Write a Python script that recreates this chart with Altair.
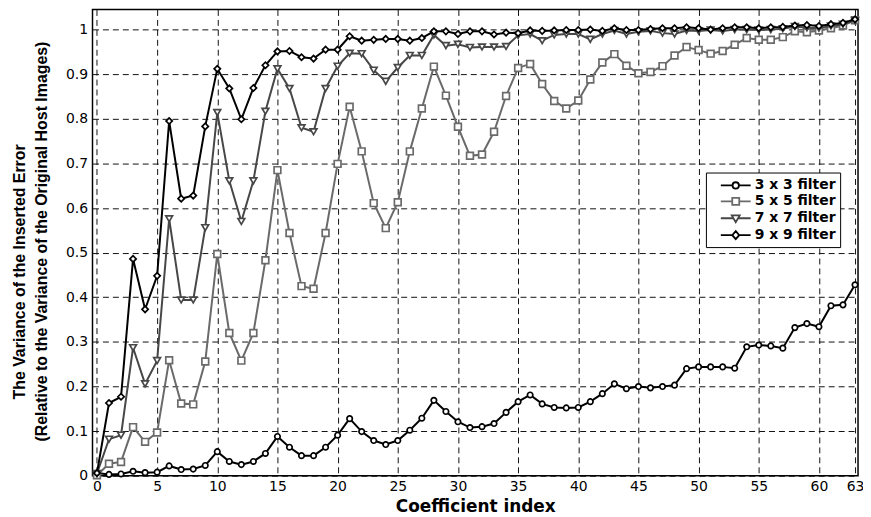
import altair as alt
import pandas as pd

# ---------------- data ----------------
coef_index = list(range(64))

names = ["3 x 3 filter", "5 x 5 filter", "7 x 7 filter", "9 x 9 filter"]

f3 = [0.006, 0.003, 0.004, 0.010, 0.007, 0.008, 0.022, 0.014, 0.015, 0.023,
      0.054, 0.032, 0.025, 0.032, 0.050, 0.088, 0.064, 0.045, 0.045, 0.064,
      0.091, 0.128, 0.099, 0.079, 0.070, 0.079, 0.102, 0.129, 0.169, 0.144,
      0.121, 0.108, 0.110, 0.117, 0.142, 0.166, 0.181, 0.161, 0.153, 0.152,
      0.153, 0.166, 0.184, 0.206, 0.195, 0.200, 0.197, 0.200, 0.203, 0.240,
      0.244, 0.244, 0.244, 0.241, 0.289, 0.293, 0.291, 0.286, 0.332, 0.341,
      0.334, 0.381, 0.383, 0.428]

f5 = [0.001, 0.027, 0.031, 0.109, 0.076, 0.097, 0.259, 0.162, 0.160, 0.256,
      0.497, 0.320, 0.258, 0.320, 0.483, 0.685, 0.544, 0.425, 0.419, 0.544,
      0.699, 0.827, 0.727, 0.611, 0.555, 0.613, 0.727, 0.823, 0.917, 0.852,
      0.782, 0.717, 0.720, 0.771, 0.851, 0.914, 0.923, 0.878, 0.840, 0.823,
      0.841, 0.888, 0.926, 0.945, 0.919, 0.902, 0.905, 0.918, 0.942, 0.961,
      0.954, 0.946, 0.952, 0.966, 0.981, 0.977, 0.977, 0.983, 0.996, 0.994,
      0.998, 1.003, 1.009, 1.021]

f7 = [0.005, 0.082, 0.091, 0.287, 0.206, 0.258, 0.576, 0.394, 0.394, 0.556,
      0.814, 0.661, 0.570, 0.661, 0.817, 0.912, 0.868, 0.780, 0.771, 0.868,
      0.918, 0.947, 0.946, 0.909, 0.884, 0.915, 0.942, 0.942, 0.988, 0.964,
      0.967, 0.960, 0.961, 0.961, 0.962, 0.987, 0.990, 0.975, 0.988, 0.990,
      0.990, 0.978, 0.990, 0.998, 0.990, 0.995, 0.997, 0.992, 0.990, 0.998,
      0.997, 0.999, 0.997, 1.000, 1.000, 0.999, 1.000, 1.002, 1.007, 1.004,
      1.003, 1.008, 1.012, 1.020]

f9 = [0.006, 0.163, 0.177, 0.486, 0.373, 0.448, 0.795, 0.621, 0.628, 0.783,
      0.912, 0.868, 0.799, 0.869, 0.920, 0.951, 0.952, 0.938, 0.935, 0.955,
      0.955, 0.985, 0.975, 0.977, 0.979, 0.979, 0.975, 0.981, 0.996, 0.996,
      0.990, 0.996, 0.996, 0.989, 0.993, 0.992, 0.998, 0.997, 0.998, 0.999,
      0.999, 1.000, 0.997, 1.003, 0.999, 0.999, 1.001, 1.003, 1.003, 1.005,
      1.003, 1.000, 1.003, 1.005, 1.005, 1.003, 1.005, 1.006, 1.009, 1.010,
      1.008, 1.012, 1.015, 1.023]

x_ticks = [0, 5, 10, 15, 20, 25, 30, 35, 40, 45, 50, 55, 60, 63]
y_ticks = [0, 0.1, 0.2, 0.3, 0.4, 0.5, 0.6, 0.7, 0.8, 0.9, 1.0]

y_title_1 = "The Variance of the Inserted Error"
y_title_2 = "(Relative to the Variance of the Original Host Images)"
x_title = "Coefficient index"

# ---------------- styling ----------------
colors = ["#000000", "#6a6a6a", "#474747", "#000000"]
shapes = ["circle", "square", "triangle-down", "diamond"]
marker_sizes = [30, 46, 46, 40]

# legend symbols: a line with the marker in the middle (unit = 8 px)
legend_paths = [
    "M-1.875,0H-0.4M0.4,0H1.875M0.4,0A0.4,0.4 0 1,1 -0.4,0A0.4,0.4 0 1,1 0.4,0Z",
    "M-1.875,0H-0.44M0.44,0H1.875M-0.44,-0.44H0.44V0.44H-0.44Z",
    "M-1.875,0H-0.29M0.29,0H1.875M-0.5,-0.35H0.5L0,0.5Z",
    "M-1.875,0H-0.44M0.44,0H1.875M0,-0.5L0.44,0L0,0.5L-0.44,0Z",
]

rows = []
for n, vals in zip(names, [f3, f5, f7, f9]):
    for k, v in zip(coef_index, vals):
        rows.append({"series": n, "k": k, "v": v})
df = pd.DataFrame(rows)

tick_font = "DejaVu Sans"
pad_chars = "\u00a0" * 11 + "\u2800"   # keeps the first title line off-centre like the original

x_enc = alt.X(
    "k:Q",
    scale=alt.Scale(domain=[-0.37, 63.25], nice=False, zero=False),
    axis=alt.Axis(
        values=x_ticks, format="d", grid=True, gridDash=[6, 4], gridColor="#111111",
        gridWidth=1, ticks=False, domain=False, labelFlush=False, labelOverlap=False,
        labelFont=tick_font, labelFontSize=14, labelColor="black", labelPadding=4,
        title=x_title, titleFont=tick_font, titleFontSize=17,
        titleFontWeight="bold", titleColor="black", titlePadding=5,
    ),
)
y_enc = alt.Y(
    "v:Q",
    scale=alt.Scale(domain=[0, 1.045], nice=False),
    axis=alt.Axis(
        values=y_ticks, format="~g", grid=True, gridDash=[6, 4], gridColor="#111111",
        gridWidth=1, ticks=False, domain=False, labelFlush=False, labelOverlap=False,
        labelFont=tick_font, labelFontSize=14, labelColor="black", labelPadding=5,
        title=[y_title_1 + pad_chars, y_title_2],
        titleFont="Liberation Sans", titleFontSize=16, titleFontWeight="bold",
        titleColor="black", titleLineHeight=22, titleBaseline="top",
        titleAngle=270, titleX=-81, titleY=233,
    ),
)

color_scale = alt.Scale(domain=names, range=colors)

base = alt.Chart(df)
layers = []
for n, shp, sz in zip(names, shapes, marker_sizes):
    sub = base.transform_filter(alt.datum.series == n)
    layers.append(
        sub.mark_line(strokeWidth=2).encode(
            x=x_enc, y=y_enc,
            color=alt.Color("series:N", scale=color_scale, legend=None),
        )
    )
    layers.append(
        sub.mark_point(shape=shp, filled=False, fill="white", fillOpacity=1,
                       strokeWidth=1.7, size=sz, opacity=1).encode(
            x=x_enc, y=y_enc,
            color=alt.Color("series:N", scale=color_scale, legend=None),
        )
    )

# per-entry legend colour, looked up from the same names / colours lists
names_js = "[" + ",".join(f"'{n}'" for n in names) + "]"
colors_js = "[" + ",".join(f"'{c}'" for c in colors) + "]"
legend_color_expr = f"{colors_js}[indexof({names_js}, datum.value)]"

# invisible layer that only carries the legend (line + marker symbols)
legend_layer = base.mark_point(filled=False, opacity=0, size=1).encode(
    x=x_enc, y=y_enc,
    shape=alt.Shape(
        "series:N", scale=alt.Scale(domain=names, range=legend_paths),
        legend=alt.Legend(
            title=None,
            labelLimit=0,
            symbolStrokeColor={"expr": legend_color_expr},
            symbolFillColor="white",
            symbolOpacity=1,
            symbolStrokeWidth=1.8,
        ),
    ),
)
layers.append(legend_layer)

chart = alt.layer(*layers).resolve_scale(shape="independent").properties(
    width=770, height=469,
    autosize=alt.AutoSizeParams(type="none"),
    padding={"left": 85, "top": 0, "right": 5, "bottom": 40},
).configure_view(
    stroke="black", strokeWidth=1.5,
).configure_legend(
    orient="none", legendX=617, legendY=164,
    strokeColor="black", fillColor="white", padding=4, cornerRadius=0,
    symbolSize=256, labelFont=tick_font, labelFontSize=14,
    labelFontWeight="bold", labelColor="black", labelOffset=10, rowPadding=0,
    symbolOffset=17,
)

chart.save("out.html", embed_options={"renderer": "svg", "actions": False})
